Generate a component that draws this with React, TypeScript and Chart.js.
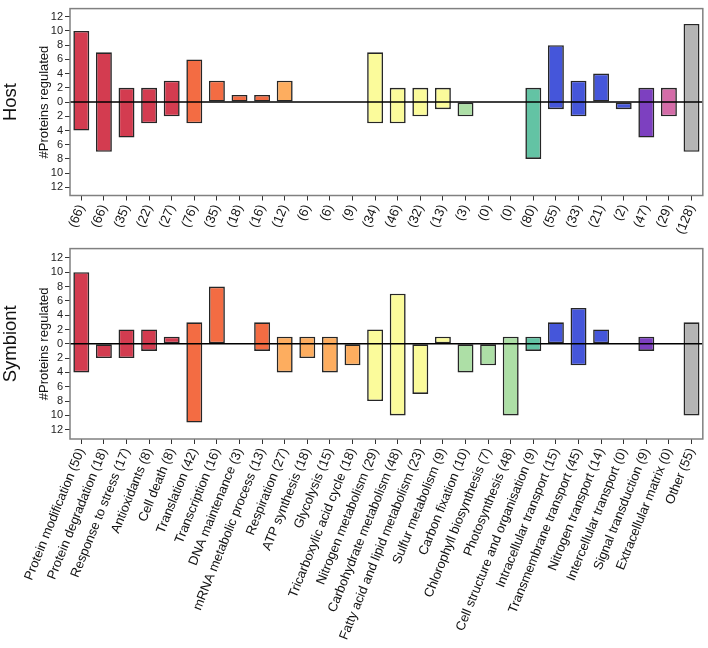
import React, { useEffect, useRef } from "react";
import { Chart, registerables } from "chart.js";
Chart.register(...registerables);

const categories = [
  "Protein modification", "Protein degradation", "Response to stress", "Antioxidants",
  "Cell death", "Translation", "Transcription", "DNA maintenance", "mRNA metabolic process",
  "Respiration", "ATP synthesis", "Glycolysis", "Tricarboxylic acid cycle", "Nitrogen metabolism",
  "Carbohydrate metabolism", "Fatty acid and lipid metabolism", "Sulfur metabolism",
  "Carbon fixation", "Chlorophyll biosynthesis", "Photosynthesis", "Cell structure and organisation",
  "Intracellular transport", "Transmembrane transport", "Nitrogen transport",
  "Intercellular transport", "Signal transduction", "Extracellular matrix", "Other",
];

const hostCounts = [66, 66, 35, 22, 27, 76, 35, 18, 16, 12, 6, 6, 9, 34, 46, 32, 13, 3, 0, 0, 80, 55, 33, 21, 2, 47, 29, 128];
const symbiontCounts = [50, 18, 17, 8, 8, 42, 16, 3, 13, 27, 18, 15, 18, 29, 48, 23, 9, 10, 7, 48, 9, 15, 45, 14, 0, 9, 0, 55];

const hostUp = [10, 7, 2, 2, 3, 6, 3, 1, 1, 3, 0, 0, 0, 7, 2, 2, 2, 0, 0, 0, 2, 8, 3, 4, 0, 2, 2, 11];
const hostDown = [4, 7, 5, 3, 2, 3, 0, 0, 0, 0, 0, 0, 0, 3, 3, 2, 1, 2, 0, 0, 8, 1, 2, 0, 1, 5, 2, 7];
const symbiontUp = [10, 0, 2, 2, 1, 3, 8, 0, 3, 1, 1, 1, 0, 2, 7, 0, 1, 0, 0, 1, 1, 3, 5, 2, 0, 1, 0, 3];
const symbiontDown = [4, 2, 2, 1, 0, 11, 0, 0, 1, 4, 2, 4, 3, 8, 10, 7, 0, 4, 3, 10, 1, 0, 3, 0, 0, 1, 0, 10];

const yTickValues = [-12, -10, -8, -6, -4, -2, 0, 2, 4, 6, 8, 10, 12];

// colour group of each category
const categoryGroup = [0, 0, 0, 0, 0, 1, 1, 1, 1, 2, 2, 2, 2, 3, 3, 3, 3, 4, 4, 4, 5, 6, 6, 6, 6, 7, 8, 9];
const groupColors = ["#d33c50", "#f36c43", "#fdad5f", "#fbfb9b", "#addfa6", "#63c3a4", "#4556da", "#7d40c0", "#d46ca8", "#b4b4b4"];

const FONT = "'Liberation Sans', Arial, Helvetica, sans-serif";

type PanelProps = {
  title: string;
  labels: string[];
  up: number[];
  down: number[];
  range: number;
  height: number;
  padTop: number;
  axisHeight: number;
};

function Panel({ title, labels, up, down, range, height, padTop, axisHeight }: PanelProps) {
  const ref = useRef<HTMLCanvasElement | null>(null);
  useEffect(() => {
    if (!ref.current) return;
    const frame = {
      id: "frame",
      afterDatasetsDraw(chart: any) {
        const { ctx, chartArea } = chart;
        const y0 = chart.scales.y.getPixelForValue(0);
        ctx.save();
        ctx.strokeStyle = "#000";
        ctx.lineWidth = 1.5;
        ctx.beginPath();
        ctx.moveTo(chartArea.left, y0);
        ctx.lineTo(chartArea.right, y0);
        ctx.stroke();
        ctx.strokeStyle = "#808080";
        ctx.lineWidth = 1.5;
        ctx.strokeRect(chartArea.left, chartArea.top, chartArea.right - chartArea.left, chartArea.bottom - chartArea.top);
        ctx.restore();
      },
      afterDraw(chart: any) {
        const { ctx, chartArea } = chart;
        const cy = (chartArea.top + chartArea.bottom) / 2;
        ctx.save();
        ctx.fillStyle = "#111";
        ctx.textAlign = "center";
        ctx.textBaseline = "alphabetic";
        ctx.translate(15.5, cy);
        ctx.rotate(-Math.PI / 2);
        ctx.font = `18.5px ${FONT}`;
        ctx.fillText(title, 0, 0);
        ctx.restore();
        ctx.save();
        ctx.fillStyle = "#111";
        ctx.textAlign = "center";
        ctx.textBaseline = "alphabetic";
        ctx.translate(47.5, cy);
        ctx.rotate(-Math.PI / 2);
        ctx.font = `13px ${FONT}`;
        ctx.fillText("#Proteins regulated", 0, 0);
        ctx.restore();
      },
    };
    const chart = new Chart(ref.current, {
      type: "bar",
      data: {
        labels,
        datasets: [
          {
            data: up.map((u, i) => (u === 0 && down[i] === 0 ? null : [-down[i], u])) as any,
            backgroundColor: categoryGroup.map((g) => groupColors[g]),
            borderColor: "#262626",
            borderWidth: 1.6,
            borderSkipped: false,
            barPercentage: 0.705,
            categoryPercentage: 1,
          },
        ],
      },
      options: {
        animation: false,
        responsive: false,
        maintainAspectRatio: false,
        layout: { padding: { top: padTop, right: 1.3, left: 0, bottom: 0 } },
        plugins: { legend: { display: false }, tooltip: { enabled: false }, title: { display: false } },
        scales: {
          x: {
            grid: { display: true, drawOnChartArea: false, drawTicks: true, tickLength: 5, offset: false, color: "#333" },
            border: { display: false },
            ticks: {
              autoSkip: false,
              maxRotation: 68,
              minRotation: 68,
              padding: 2,
              color: "#111",
              font: { family: FONT, size: 13 },
            },
            afterFit: (s: any) => {
              s.height = axisHeight;
            },
          },
          y: {
            min: -range,
            max: range,
            afterBuildTicks: (s: any) => {
              s.ticks = yTickValues.map((v) => ({ value: v }));
            },
            ticks: {
              autoSkip: false,
              callback: (v: any) => String(Math.abs(Number(v))),
              padding: 2,
              color: "#222",
              font: { family: FONT, size: 11 },
            },
            grid: { drawOnChartArea: false, drawTicks: true, tickLength: 5, color: "#333" },
            border: { display: false },
            afterFit: (s: any) => {
              s.width = 70;
            },
          },
        },
      },
      plugins: [frame],
    });
    return () => chart.destroy();
  }, []);
  return <canvas ref={ref} width={708} height={height} style={{ display: "block", width: 708, height }} />;
}

export default function App() {
  const hostLabels = hostCounts.map((c) => `(${c})`);
  const symLabels = categories.map((c, i) => `${c} (${symbiontCounts[i]})`);
  return (
    <div style={{ position: "absolute", left: 0, top: 0, width: 708, height: 648, background: "#fff" }}>
      <div style={{ position: "absolute", left: 0, top: 0 }}>
        <Panel title="Host" labels={hostLabels} up={hostUp} down={hostDown} range={13.15} height={240} padTop={1} axisHeight={44.5} />
      </div>
      <div style={{ position: "absolute", left: 0, top: 240 }}>
        <Panel title="Symbiont" labels={symLabels} up={symbiontUp} down={symbiontDown} range={13.3} height={408} padTop={3} axisHeight={209} />
      </div>
    </div>
  );
}
